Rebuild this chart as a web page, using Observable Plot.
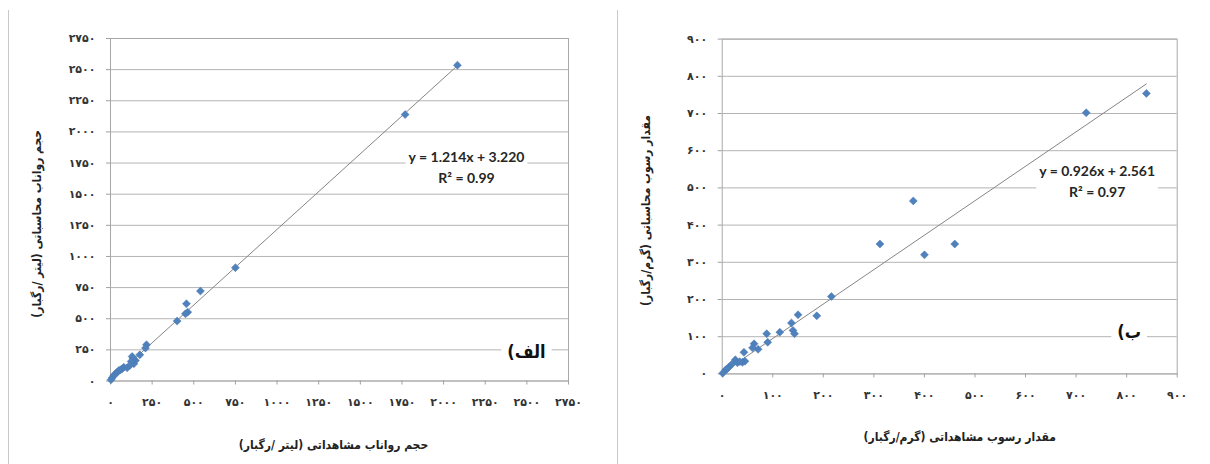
<!DOCTYPE html>
<html>
<head>
<meta charset="utf-8">
<script src="https://cdn.jsdelivr.net/npm/d3@7"></script>
<script src="https://cdn.jsdelivr.net/npm/@observablehq/plot@0.6"></script>
<style>
html, body { margin: 0; padding: 0; background: #fff; }
#wrap { position: relative; width: 1210px; height: 464px; display: flex; overflow: hidden; }
#wrap svg { display: block; flex: none; }
.sep { position: absolute; top: 10px; bottom: 0; width: 1px; background: #c8c8c8; }
</style>
</head>
<body>
<div id="wrap">
  <div class="sep" style="left:8px"></div>
  <div class="sep" style="left:617px"></div>
</div>
<script>
// ---- Panel الف : runoff volume ----
const leftTicks = [0, 250, 500, 750, 1000, 1250, 1500, 1750, 2000, 2250, 2500, 2750];
const leftObserved   = [2083, 1769, 750, 540, 456, 464, 450, 400, 216, 210, 176, 150, 140, 136, 130, 124, 116, 100, 80, 70, 60, 50, 40, 30, 20, 10, 3];
const leftCalculated = [2536, 2139, 910, 722, 620, 553, 540, 481, 291, 264, 210, 165, 138, 183, 197, 157, 125, 106, 111, 98, 90, 84, 71, 58, 44, 26, 10];
const leftFit = [1.214, 3.220];
const leftEquation = ["y = 1.214x + 3.220", "R² = 0.99"];
const leftTag = "الف)";
const leftXTitle = "حجم رواناب مشاهداتی (لیتر /رگبار)";
const leftYTitle = "حجم رواناب محاسباتی (لیتر /رگبار)";

// ---- Panel ب : sediment amount ----
const rightTicks = [0, 100, 200, 300, 400, 500, 600, 700, 800, 900];
const rightObserved   = [839, 720, 378, 312, 400, 460, 216, 187, 150, 137, 140, 143, 114, 88, 90, 71, 63, 60, 43, 45, 40, 26, 20, 13, 7, 1, 30, 35, 10];
const rightCalculated = [754, 702, 465, 349, 320, 349, 208, 156, 159, 137, 117, 108, 112, 108, 85, 66, 81, 70, 58, 34, 31, 38, 27, 18, 11, 2, 30, 33, 14];
const rightFit = [0.926, 2.561];
const rightEquation = ["y = 0.926x + 2.561", "R² = 0.97"];
const rightTag = "ب)";
const rightXTitle = "مقدار رسوب مشاهداتی (گرم/رگبار)";
const rightYTitle = "مقدار رسوب محاسباتی (گرم/رگبار)";

const RLM = "\u200F";
const fa = d => String(d).replace(/\d/g, c => "۰۱۲۳۴۵۶۷۸۹"[+c]);
const arabicFont = "'DejaVu Sans', 'Noto Sans', sans-serif";
const condFont = "'DejaVu Sans Condensed', 'DejaVu Sans', sans-serif";

function panel(o) {
  const pts = o.obs.map((x, i) => ({x, y: o.calc[i]}));
  const xmax = d3.max(o.obs);
  const fitLine = [0, xmax].map(x => ({x, y: o.fit[0] * x + o.fit[1]}));
  const domain = [o.ticks[0], o.ticks[o.ticks.length - 1]];
  return Plot.plot({
    width: 605,
    height: 464,
    marginLeft: o.m[0], marginRight: o.m[1], marginTop: o.m[2], marginBottom: o.m[3],
    style: {fontFamily: arabicFont, fontSize: "11px", fontWeight: "bold", color: "#333", background: "transparent", overflow: "visible"},
    x: {domain, label: null},
    y: {domain, label: null},
    marks: [
      Plot.gridY(o.ticks, {stroke: "#b4b4b4", strokeOpacity: 1}),
      Plot.text([o.eq.join("\n")], {
        text: d => d, frameAnchor: "top-right", dx: o.eqPos[0], dy: o.eqPos[1],
        textAnchor: "middle", lineAnchor: "middle", lineHeight: 1.45,
        fontFamily: "Lato, 'Open Sans', sans-serif", fontSize: 14, fontWeight: "bold", fill: "#262626"
      }),
      Plot.text([o.tag + RLM], {
        text: d => d, frameAnchor: "bottom-right", dx: o.tagPos[0], dy: o.tagPos[1],
        textAnchor: "middle", fontFamily: condFont, fontSize: 18, fontWeight: "bold", fill: "#111"
      }),
      Plot.frame({stroke: "#a8a8a8"}),
      Plot.axisX(o.ticks, {tickFormat: fa, tickSize: 4, tickPadding: 13, stroke: "#a0a0a0", fill: "#333", label: null}),
      Plot.axisY(o.ticks, {tickFormat: fa, tickSize: 4, tickPadding: 11, stroke: "#a0a0a0", fill: "#333", label: null}),
      Plot.line(fitLine, {x: "x", y: "y", stroke: "#858585", strokeWidth: 1}),
      Plot.dot(pts, {x: "x", y: "y", symbol: "diamond2", r: 3.6, fill: "#4f81bd", stroke: "#4a78b0", strokeWidth: 0.5}),
      Plot.text([o.xTitle + RLM], {
        text: d => d, frameAnchor: "bottom", textAnchor: "middle", dx: o.xTitlePos[0], dy: o.xTitlePos[1],
        fontFamily: condFont, fontSize: 12, fontWeight: "bold", fill: "#222"
      }),
      Plot.text([o.yTitle + RLM], {
        text: d => d, frameAnchor: "left", textAnchor: "middle", rotate: -90, dx: o.yTitlePos[0], dy: o.yTitlePos[1],
        fontFamily: condFont, fontSize: 12, fontWeight: "bold", fill: "#222"
      })
    ]
  });
}

const wrap = document.getElementById("wrap");
const left = panel({
  obs: leftObserved, calc: leftCalculated, ticks: leftTicks, fit: leftFit, eq: leftEquation, tag: leftTag,
  xTitle: leftXTitle, yTitle: leftYTitle,
  m: [110, 37, 38, 83.5],
  eqPos: [-102, 127.5], tagPos: [-42, -23], xTitlePos: [-6, 67.5], yTitlePos: [-73, 14]
});
const right = panel({
  obs: rightObserved, calc: rightCalculated, ticks: rightTicks, fit: rightFit, eq: rightEquation, tag: rightTag,
  xTitle: rightXTitle, yTitle: rightYTitle,
  m: [116.7, 33.3, 38.6, 90.6],
  eqPos: [-80, 141], tagPos: [-48, -36], xTitlePos: [10, 66.6], yTitlePos: [-75.7, 4]
});
wrap.appendChild(left);
wrap.appendChild(right);

// white boxes behind the in-plot annotations (as in the original, they interrupt the gridlines)
function boxBehind(svg, match, padX, padY) {
  svg.querySelectorAll("text").forEach(t => {
    if (!match(t.textContent)) return;
    const b = t.getBBox();
    const r = document.createElementNS("http://www.w3.org/2000/svg", "rect");
    r.setAttribute("x", b.x - padX);
    r.setAttribute("y", b.y - padY);
    r.setAttribute("width", b.width + 2 * padX);
    r.setAttribute("height", b.height + 2 * padY);
    r.setAttribute("fill", "white");
    r.setAttribute("stroke", "none");
    const tr = t.getAttribute("transform");
    if (tr) r.setAttribute("transform", tr);
    t.parentNode.insertBefore(r, t);
  });
}
[left, right].forEach(svg => {
  boxBehind(svg, s => s.includes("R²"), 3, 1);
  boxBehind(svg, s => s === leftTag + RLM || s === rightTag + RLM, 6, 0);
});
</script>
</body>
</html>
